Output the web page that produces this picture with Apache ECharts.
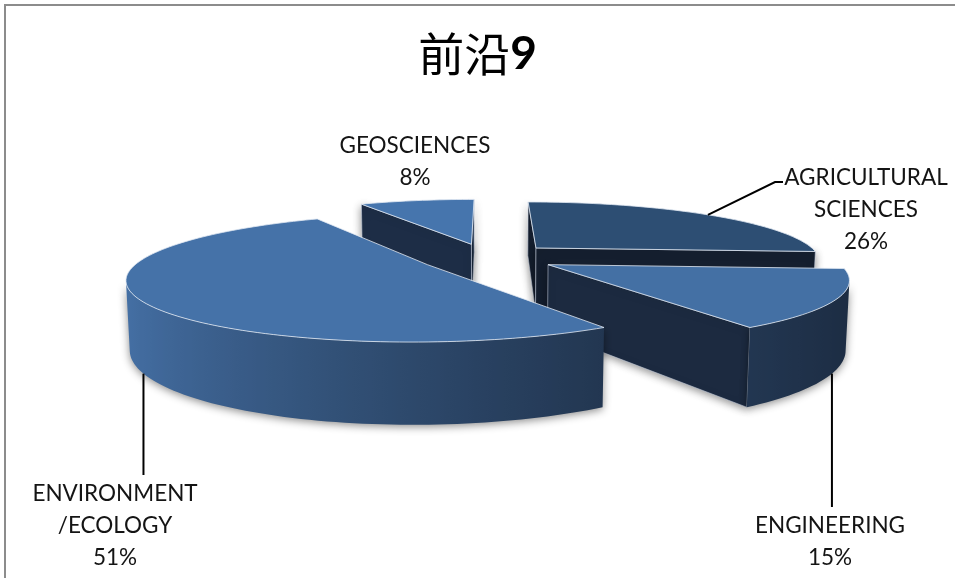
<!DOCTYPE html>
<html>
<head>
<meta charset="utf-8">
<script src="https://cdn.jsdelivr.net/npm/echarts@6/dist/echarts.min.js"></script>
<style>
  html, body { margin: 0; padding: 0; background: #ffffff; }
  #chart { width: 955px; height: 578px; }
</style>
</head>
<body>
<div id="chart"></div>
<script>
// ---- data ----
const categories = ['AGRICULTURAL SCIENCES', 'ENGINEERING', 'ENVIRONMENT/ECOLOGY', 'GEOSCIENCES'];
const labelLines = [['AGRICULTURAL', 'SCIENCES'], ['ENGINEERING'], ['ENVIRONMENT', '/ECOLOGY'], ['GEOSCIENCES']];
const shares = [26, 15, 51, 8];

// ---- look ----
const topColors  = ['#2d4e73', '#4470a4', '#4572a8', '#4675ad'];
const sideColors = ['#151f2f', '#1c2a40', '#1f3049', '#1d2d46'];
const wallDark  = [28, 44, 66];
const wallLight = [70, 114, 168];

// label anchors (centre of the first text line) and leader routing
const labelPos = [
  { x: 866, y: 178 },
  { x: 830, y: 526 },
  { x: 115, y: 494 },
  { x: 415, y: 146 }
];
const leaders = [
  { from: 'top', knee: [775, 182], end: [783, 182] },
  { from: 'bottom', endY: 507 },
  { from: 'bottom', endY: 475 },
  null
];

// ---- 3D pie camera ----
const VIEW = { cx: 487.7, cy: 257.3, scale: 1425, dist: 5, tilt: 11.86, depth: 0.236, explode: 0.24 };
const RAD = Math.PI / 180;
const sT = Math.sin(VIEW.tilt * RAD), cT = Math.cos(VIEW.tilt * RAD);
const CAM_V = VIEW.dist * cT * cT;

function depthOf(p) { return VIEW.dist * cT + p[1] * cT - p[2] * sT; }
function project(p) {
  const Z = depthOf(p);
  return [VIEW.cx + VIEW.scale * cT * p[0] / Z,
          VIEW.cy - VIEW.scale * cT * (p[1] * sT + p[2] * cT) / Z];
}
function meanDepth(pts) { return pts.reduce((s, p) => s + depthOf(p), 0) / pts.length; }
function wallColor(a) {
  const f = Math.pow((1 - Math.sin(a * RAD)) / 2, 1.3);
  const c = wallDark.map((d, k) => Math.round(d + f * (wallLight[k] - d)));
  return 'rgb(' + c.join(',') + ')';
}

// Build every face of every slice, then rank the side faces far-to-near.
function buildSlices(values) {
  const total = values.reduce((a, b) => a + b, 0);
  let acc = 0;
  const slices = [];
  const sides = [];
  values.forEach((val, i) => {
    const a0 = acc / total * 360; acc += val; const a1 = acc / total * 360;
    const am = (a0 + a1) / 2;
    const ou = VIEW.explode * Math.sin(am * RAD), ov = VIEW.explode * Math.cos(am * RAD);
    const rim = (a, w) => [ou + Math.sin(a * RAD), ov + Math.cos(a * RAD), w];
    const apex = w => [ou, ov, w];
    const H = -VIEW.depth;
    const n = Math.max(2, Math.ceil((a1 - a0) / 1.5));
    const angles = [];
    for (let j = 0; j <= n; j++) angles.push(a0 + (a1 - a0) * j / n);

    const sl = { index: i, a0, a1, am, ou, ov, rim, sides: [] };
    sl.top = [apex(0)].concat(angles.map(a => rim(a, 0))).map(project);

    // outer wall: keep only the runs that face the camera
    let run = [];
    const flush = () => {
      if (run.length > 1) {
        const pts3 = run.map(a => rim(a, 0)).concat(run.slice().reverse().map(a => rim(a, H)));
        const pts = pts3.map(project);
        const topPts = run.map(a => project(rim(a, 0)));
        const xs = topPts.map(p => p[0]);
        const x0 = Math.min.apply(null, xs), x1 = Math.max.apply(null, xs);
        const stops = run.map((a, k) => ({ offset: x1 > x0 ? (topPts[k][0] - x0) / (x1 - x0) : 0, color: wallColor(a) }))
          .sort((p, q) => p.offset - q.offset);
        sl.sides.push({
          kind: 'wall', pts, depth: meanDepth(pts3),
          fill: { type: 'linear', x: x0, y: 0, x2: x1, y2: 0, global: true, colorStops: stops }
        });
      }
      run = [];
    };
    for (let j = 0; j < n; j++) {
      const m = (angles[j] + angles[j + 1]) / 2 * RAD;
      const facing = -1 - ou * Math.sin(m) - Math.cos(m) * (CAM_V + ov);
      if (facing > 0) { if (!run.length) run.push(angles[j]); run.push(angles[j + 1]); }
      else flush();
    }
    flush();

    // radial cut faces
    const cut = (a, normalSign) => {
      const nu = normalSign * -Math.cos(a * RAD), nv = normalSign * Math.sin(a * RAD);
      const vis = nu * (0 - ou) + nv * (-CAM_V - ov);
      if (vis <= 0) return;
      const pts3 = [apex(0), rim(a, 0), rim(a, H), apex(H)];
      sl.sides.push({ kind: 'cut', pts: pts3.map(project), depth: meanDepth(pts3), fill: sideColors[i] });
    };
    cut(a0, 1);
    cut(a1, -1);

    sl.sides.forEach(f => sides.push(f));
    slices.push(sl);
  });
  sides.sort((p, q) => q.depth - p.depth).forEach((f, r) => { f.z2 = 10 + r; });
  return { slices, total };
}

const PIE = buildSlices(shares);

function renderSlice(params, api) {
  const i = params.dataIndex;
  const sl = PIE.slices[i];
  const value = api.value(0);
  const children = [];

  sl.sides.forEach(f => {
    children.push({
      type: 'polygon', z2: f.z2,
      shape: { points: f.pts },
      style: {
        fill: f.fill,
        stroke: f.kind === 'cut' ? 'rgba(200,210,225,0.55)' : null,
        lineWidth: 1,
        shadowBlur: 9, shadowColor: 'rgba(0,0,0,0.45)', shadowOffsetX: 0, shadowOffsetY: 2
      }
    });
  });

  children.push({
    type: 'polygon', z2: 500,
    shape: { points: sl.top },
    style: { fill: topColors[i], stroke: 'rgba(225,232,242,0.8)', lineWidth: 1 }
  });

  // label
  const pct = Math.round(value / PIE.total * 100) + '%';
  const lp = labelPos[i];
  children.push({
    type: 'text', z2: 900,
    style: {
      text: labelLines[i].concat([pct]).join('\n'),
      x: lp.x, y: lp.y - 16,
      align: 'center', verticalAlign: 'top',
      font: '22.5px Lato', lineHeight: 32, fill: '#141414'
    }
  });

  // leader line
  const ld = leaders[i];
  if (ld) {
    let pts;
    if (ld.from === 'top') {
      const s = project(sl.rim(sl.am, 0));
      pts = [s, ld.knee, ld.end];
    } else {
      const s = project(sl.rim(sl.am, -VIEW.depth));
      pts = [s, [s[0], ld.endY]];
    }
    children.push({
      type: 'polyline', z2: 800,
      shape: { points: pts },
      style: { stroke: '#000000', lineWidth: 2, fill: null }
    });
  }

  return { type: 'group', children };
}

const chart = echarts.init(document.getElementById('chart'), null, { renderer: 'canvas' });
chart.setOption({
  animation: false,
  backgroundColor: '#ffffff',
  title: {
    text: '{a|前沿}{b|9}',
    left: 'center',
    top: 26,
    textStyle: {
      rich: {
        a: { fontFamily: 'Noto Sans CJK SC', fontWeight: 'normal', fontSize: 46, color: '#000000' },
        b: { fontFamily: 'Lato', fontWeight: 'bold', fontSize: 46, color: '#000000' }
      }
    }
  },
  graphic: [{
    type: 'rect', silent: true,
    shape: { x: 5, y: 5, width: 1200, height: 1200 },
    style: { fill: 'none', stroke: '#8c8c8c', lineWidth: 2 }
  }],
  series: [{
    type: 'custom',
    name: '前沿9',
    coordinateSystem: 'none',
    silent: true,
    data: shares.map((v, i) => ({ name: categories[i], value: [v] })),
    renderItem: renderSlice
  }]
});
</script>
</body>
</html>
